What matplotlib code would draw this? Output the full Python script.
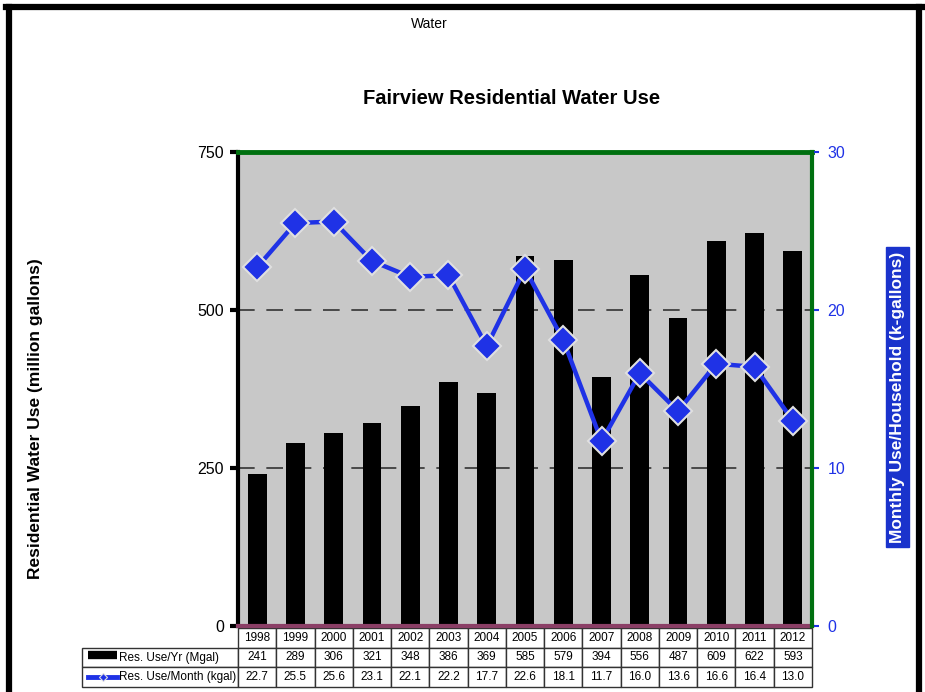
import numpy as np
import matplotlib.pyplot as plt
from matplotlib.lines import Line2D

plt.rcParams['font.family'] = ['Liberation Sans', 'DejaVu Sans']

years = ["1998", "1999", "2000", "2001", "2002", "2003", "2004", "2005",
         "2006", "2007", "2008", "2009", "2010", "2011", "2012"]
use_per_year = [241, 289, 306, 321, 348, 386, 369, 585, 579, 394, 556, 487, 609, 622, 593]
use_per_month = [22.7, 25.5, 25.6, 23.1, 22.1, 22.2, 17.7, 22.6, 18.1, 11.7, 16.0, 13.6, 16.6, 16.4, 13.0]
month_labels = ["22.7", "25.5", "25.6", "23.1", "22.1", "22.2", "17.7", "22.6",
                "18.1", "11.7", "16.0", "13.6", "16.6", "16.4", "13.0"]
row_labels = ["Res. Use/Yr (Mgal)", "Res. Use/Month (kgal)"]

blue = "#1f32e6"
fig = plt.figure(figsize=(9.25, 6.92), dpi=100)
ax = fig.add_axes([238/925, 1-626/692, 574/925, 474/692])
x = np.arange(len(years))

#Bars for yearly use on the left axis.
ax.set_facecolor("#c8c8c8")
ax.bar(x, use_per_year, width=0.49, color="black", zorder=2)
ax.set_xlim(-0.5, len(years) - 0.5)
ax.set_ylim(0, 750)
ax.set_yticks([0, 250, 500, 750])
ax.set_xticks([])
for v in [250, 500]:
    ax.axhline(v, color="#333333", lw=1.2, dashes=(10, 7), zorder=1)
ax.tick_params(axis="y", length=6, width=3, color="black", labelsize=11.5, pad=4)
ax.spines["left"].set_color("black")
ax.spines["left"].set_linewidth(3)
ax.spines["top"].set_color("#007010")
ax.spines["top"].set_linewidth(3.5)
ax.spines["bottom"].set_color("#8b3f66")
ax.spines["bottom"].set_linewidth(3)
ax.spines["right"].set_visible(False)
ax.set_ylabel("Residential Water Use (million gallons)", fontsize=12.5,
              fontweight="bold", labelpad=0)
ax.yaxis.set_label_coords(-0.34, 0.437)

#Monthly use per household on the right axis.
ax2 = ax.twinx()
ax2.plot(x, use_per_month, color=blue, lw=3.2, marker="D", markersize=14,
         markerfacecolor=blue, markeredgecolor="#e0e0e0", markeredgewidth=1.5, zorder=3)
ax2.set_ylim(0, 30)
ax2.set_yticks([0, 10, 20, 30])
ax2.tick_params(axis="y", length=5, width=1.5, color=blue, labelcolor=blue,
                labelsize=11.5, pad=6)
for s in ["left", "top", "bottom"]:
    ax2.spines[s].set_visible(False)
ax2.spines["right"].set_color("#007010")
ax2.spines["right"].set_linewidth(3)
ax2.set_ylabel("Monthly Use/Household (k-gallons)", fontsize=12.5, fontweight="bold",
               color="white", labelpad=0,
               bbox=dict(boxstyle="square,pad=0.25", facecolor="#1a33cc", edgecolor="#1a33cc"))
ax2.yaxis.set_label_coords(1.136, 0.483)

#Data table under the chart.
cell_text = [[""] + years,
             [row_labels[0]] + [str(v) for v in use_per_year],
             [row_labels[1]] + month_labels]
widths = [156/730] + [574/15/730] * len(years)
tbl = ax.table(cellText=cell_text, colWidths=widths, cellLoc="center",
               bbox=[-156/574, -61/474, 730/574, 59/474])
tbl.auto_set_font_size(False)
tbl.set_fontsize(8.5)
for (r, c), cell in tbl.get_celld().items():
    cell.set_linewidth(1)
    cell.set_edgecolor("#333333")
    if r == 0 and c == 0:
        cell.visible_edges = "open"
    if c == 0 and r > 0:
        cell._loc = "left"
        cell.PAD = 0.235
        cell.get_text().set_ha("left")

#Legend glyphs in the row label cells.
ax.add_line(Line2D([-150/574, -121/574], [-29/474, -29/474], color="black", lw=6,
                   transform=ax.transAxes, clip_on=False, solid_capstyle="butt"))
ax.add_line(Line2D([-150/574, -121/574], [-51/474, -51/474], color=blue, lw=3.5,
                   transform=ax.transAxes, clip_on=False))
ax.add_line(Line2D([-135.5/574], [-51/474], color=blue, marker="D", markersize=4,
                   markeredgecolor="#e0e0e0", markeredgewidth=0.8,
                   transform=ax.transAxes, clip_on=False))

fig.text(429/925, 1-24/692, "Water", ha="center", va="center", fontsize=10)
fig.text(512/925, 1-99/692, "Fairview Residential Water Use", ha="center", va="center",
         fontsize=14.5, fontweight="bold")

#Page border.
for xs, ys in [([9/925, 9/925], [-0.01, 1-7/692]),
               ([6/925, 922/925], [1-7/692, 1-7/692]),
               ([919/925, 919/925], [-0.01, 1-7/692])]:
    fig.add_artist(Line2D(xs, ys, color="black", lw=4.5, transform=fig.transFigure))

fig.savefig("out.png", dpi=100)
